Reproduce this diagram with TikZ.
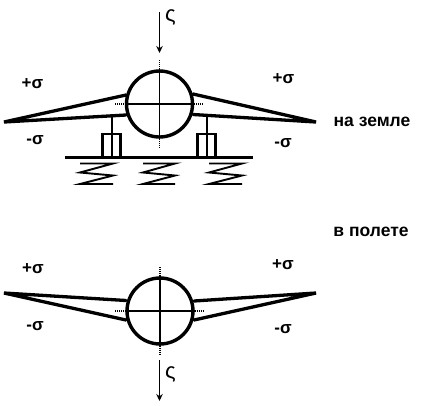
\documentclass[tikz,border=0pt]{standalone}
\usepackage{fontspec}
\setmainfont{Liberation Sans}
\usetikzlibrary{arrows.meta}
\tikzset{
  body/.style={circle,draw=black,line width=3.4pt,minimum size=66pt,inner sep=0pt,fill=white},
  wing/.style={line width=3.3pt,line cap=round,line join=miter},
  axis/.style={line width=1.2pt},
  axisend/.style={line width=1.8pt,dash pattern=on 1pt off 1pt},
  gear/.style={line width=2.7pt},
  groundline/.style={line width=3.6pt},
  coil/.style={line width=1.9pt,line join=miter},
  load/.style={line width=1pt,-{Stealth[length=7pt,width=6.5pt]}},
  sig/.style={inner sep=0pt,font=\bfseries\fontsize{17}{17}\selectfont},
  caption/.style={inner sep=0pt,font=\bfseries\fontsize{17.5}{18}\selectfont},
  zeta/.style={inner sep=0pt,font=\fontsize{22}{22}\selectfont}
}
\begin{document}
\begin{tikzpicture}[x=1pt,y=-1pt]
\useasboundingbox (0,0) rectangle (422,405);
% --- on the ground ---
\coordinate (l1) at (4,122); \coordinate (l1u) at (126,95); \coordinate (l1d) at (126,115);
\coordinate (r1) at (316,122); \coordinate (r1u) at (193,94); \coordinate (r1d) at (193,114.5);
\draw[wing] (l1u) -- (l1) -- (l1d);
\draw[wing] (r1u) -- (r1) -- (r1d);
\node[body] (c1) at (159.5,104) {};
\coordinate (a1t) at (159.5,60); \coordinate (a1b) at (159.5,148);
\coordinate (a1l) at (115,104);  \coordinate (a1r) at (204,104);
\draw[axis] (c1.north) -- (c1.south); \draw[axis] (c1.west) -- (c1.east);
\draw[axisend] (a1t) -- (c1.north); \draw[axisend] (c1.south) -- (a1b);
\draw[axisend] (a1l) -- (c1.west); \draw[axisend] (c1.east) -- (a1r);
\coordinate (s1a) at (112,115); \coordinate (s1b) at (112,134);
\coordinate (s2a) at (207,115); \coordinate (s2b) at (207,134);
\draw[gear] (s1a) -- (s1b); \draw[gear] (s2a) -- (s2b);
\coordinate (g1) at (65,157.5); \coordinate (g2) at (253,157.5);
\draw[gear,fill=white] (102.5,134) rectangle (120.5,157);
\draw[gear] (s1b) -- (112,157);
\draw[gear,fill=white] (197.5,134) rectangle (215.5,157);
\draw[gear] (s2b) -- (207,157);
\draw[groundline] (g1) -- (g2);
\draw[coil] (80,163.5) -- (113,163.5) -- (80,172.5) -- (113,175.5) -- (80,184) -- (113,184);
\draw[coil] (143,163.5) -- (175,163.5) -- (143,172.5) -- (175,175.5) -- (143,184) -- (175,184);
\draw[coil] (209,163.5) -- (242,163.5) -- (209,172.5) -- (242,175.5) -- (209,184) -- (242,184);
\coordinate (p1) at (159.5,12); \coordinate (p1e) at (159.5,53);
\draw[load] (p1) -- (p1e);
\node[zeta] (z1) at (170.5,17) {ς};
\node[sig] (t1) at (32.5,84) {+σ};
\node[sig] (t2) at (35,140) {-σ};
\node[sig] (t3) at (283.5,79) {+σ};
\node[sig] (t4) at (283,143) {-σ};
\node[caption] (n1) at (372,122) {на земле};
% --- in flight ---
\node[caption] (n2) at (371,232) {в полете};
\coordinate (l2) at (4,293); \coordinate (l2u) at (126,300.5); \coordinate (l2d) at (126,320);
\coordinate (r2) at (316,293); \coordinate (r2u) at (194,301); \coordinate (r2d) at (194,320);
\draw[wing] (l2u) -- (l2) -- (l2d);
\draw[wing] (r2u) -- (r2) -- (r2d);
\node[body] (c2) at (160,311) {};
\coordinate (a2t) at (160,267); \coordinate (a2b) at (160,355);
\coordinate (a2l) at (115,311); \coordinate (a2r) at (204,311);
\draw[axis] (c2.north) -- (c2.south); \draw[axis] (c2.west) -- (c2.east);
\draw[axisend] (a2t) -- (c2.north); \draw[axisend] (c2.south) -- (a2b);
\draw[axisend] (a2l) -- (c2.west); \draw[axisend] (c2.east) -- (a2r);
\coordinate (p2) at (159.5,360); \coordinate (p2e) at (159.5,401);
\draw[load] (p2) -- (p2e);
\node[zeta] (z2) at (170.5,374) {ς};
\node[sig] (b1) at (33,269) {+σ};
\node[sig] (b2) at (35,326) {-σ};
\node[sig] (b3) at (283,265) {+σ};
\node[sig] (b4) at (283,329) {-σ};
\end{tikzpicture}
\end{document}
